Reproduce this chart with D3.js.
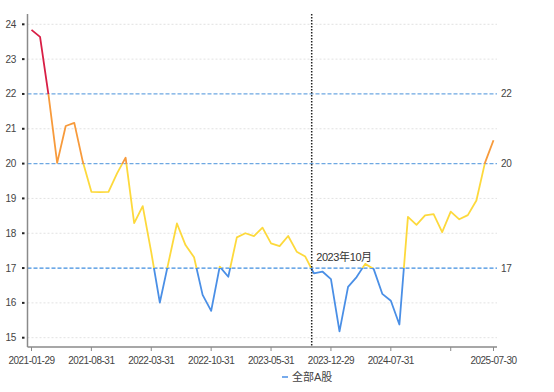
<!DOCTYPE html>
<html>
<head>
<meta charset="utf-8">
<script src="https://cdn.jsdelivr.net/npm/d3@7/dist/d3.min.js"></script>
<style>
  body { margin: 0; background: #fff; }
  svg { display: block; font-family: "Liberation Sans", Arial, "Noto Sans CJK SC", sans-serif; }
</style>
</head>
<body>
<svg id="chart" width="554" height="392"></svg>
<script>
// Dates (fin de mois) de la série
const dates = [
  "2021-01-29","2021-02-26","2021-03-31","2021-04-30","2021-05-31","2021-06-30","2021-07-30","2021-08-31","2021-09-30","2021-10-29","2021-11-30","2021-12-31",
  "2022-01-28","2022-02-28","2022-03-31","2022-04-29","2022-05-31","2022-06-30","2022-07-29","2022-08-31","2022-09-30","2022-10-31","2022-11-30","2022-12-30",
  "2023-01-31","2023-02-28","2023-03-31","2023-04-28","2023-05-31","2023-06-30","2023-07-31","2023-08-31","2023-09-28","2023-10-31","2023-11-30","2023-12-29",
  "2024-01-31","2024-02-29","2024-03-29","2024-04-30","2024-05-31","2024-06-28","2024-07-31","2024-08-30","2024-09-30","2024-10-31","2024-11-29","2024-12-31",
  "2025-01-27","2025-02-28","2025-03-31","2025-04-30","2025-05-30","2025-06-30","2025-07-30"
];

// Valeurs
const values = [
  23.84, 23.64, 21.95, 20.02, 21.08, 21.17, 20.05, 19.19, 19.18, 19.19, 19.72, 20.17,
  18.29, 18.78, 17.45, 16.01, 17.15, 18.28, 17.66, 17.31, 16.23, 15.77, 17.04, 16.75,
  17.88, 18.00, 17.92, 18.16, 17.71, 17.63, 17.92, 17.47, 17.33, 16.85, 16.90, 16.68,
  15.18, 16.46, 16.74, 17.12, 16.97, 16.26, 16.06, 15.38, 18.47, 18.24, 18.51, 18.55,
  18.03, 18.62, 18.40, 18.52, 18.94, 20.02, 20.67
];

const seriesName = "全部A股";
const yTicks = [15, 16, 17, 18, 19, 20, 21, 22, 23, 24];
const refLines = [22, 20, 17];
const xTickIdx = [0, 7, 14, 21, 28, 35, 42, 49, 54];
const xLabelIdx = [0, 7, 14, 21, 28, 35, 42, 54];
const markerPos = 32.75;   // ligne verticale "2023年10月"
const markerLabel = "2023年10月";

// Paliers de couleur (visualMap)
const pieces = [
  {min: 22, max: 99, color: "#d81e45"},
  {min: 20, max: 22, color: "#f79a3b"},
  {min: 17, max: 20, color: "#fdd93c"},
  {min: 0,  max: 17, color: "#4a8fe6"}
];

const svg = d3.select("#chart");
const plot = {left: 27.5, right: 497, top: 14, bottom: 347};

const x = d3.scaleLinear().domain([0, dates.length - 1]).range([31.5, 493.5]);
const y = d3.scaleLinear().domain([14.733, 24.296]).range([plot.bottom, plot.top]);

// Grille pointillée (sauf sous les lignes de référence)
svg.append("g").selectAll("line")
  .data(yTicks.filter(d => refLines.indexOf(d) < 0))
  .enter().append("line")
  .attr("x1", plot.left).attr("x2", plot.right)
  .attr("y1", d => y(d)).attr("y2", d => y(d))
  .attr("stroke", "#e2e2e2")
  .attr("stroke-dasharray", "2,2");

// Lignes de référence bleues
svg.append("g").selectAll("line")
  .data(refLines)
  .enter().append("line")
  .attr("x1", plot.left).attr("x2", plot.right)
  .attr("y1", d => y(d)).attr("y2", d => y(d))
  .attr("stroke", d => d == 17 ? "#3f8ddf" : "#6ea8e2")
  .attr("stroke-width", 1.2)
  .attr("stroke-dasharray", "4,2");

svg.append("g").selectAll("text")
  .data(refLines)
  .enter().append("text")
  .attr("x", 501)
  .attr("y", d => y(d) + 3.5)
  .attr("font-size", "10px")
  .attr("letter-spacing", "-0.3px")
  .attr("fill", "#444")
  .text(d => d);

// Dégradé vertical à paliers
const grad = svg.append("defs").append("linearGradient")
  .attr("id", "pieceGrad")
  .attr("gradientUnits", "userSpaceOnUse")
  .attr("x1", 0).attr("x2", 0)
  .attr("y1", plot.top).attr("y2", plot.bottom);

const span = plot.bottom - plot.top;
pieces.forEach(p => {
  let top = Math.max(plot.top, y(Math.min(p.max, y.domain()[1])));
  let bot = Math.min(plot.bottom, y(Math.max(p.min, y.domain()[0])));
  grad.append("stop").attr("offset", (top - plot.top) / span).attr("stop-color", p.color);
  grad.append("stop").attr("offset", (bot - plot.top) / span).attr("stop-color", p.color);
});

// Ligne de la série
const line = d3.line()
  .x((d, i) => x(i))
  .y(d => y(d));

svg.append("path")
  .datum(values)
  .attr("d", line)
  .attr("fill", "none")
  .attr("stroke", "url(#pieceGrad)")
  .attr("stroke-width", 1.8)
  .attr("stroke-linejoin", "round");

// Ligne verticale pointillée
svg.append("line")
  .attr("x1", x(markerPos)).attr("x2", x(markerPos))
  .attr("y1", plot.top).attr("y2", plot.bottom)
  .attr("stroke", "#222")
  .attr("stroke-width", 1.5)
  .attr("stroke-dasharray", "1.5,1.5");

svg.append("text")
  .attr("x", x(markerPos) + 4.5)
  .attr("y", 260.5)
  .attr("font-size", "11px")
  .attr("letter-spacing", "-0.4px")
  .attr("fill", "#333")
  .text(markerLabel);

// Axe Y
svg.append("line")
  .attr("x1", plot.left).attr("x2", plot.left)
  .attr("y1", plot.top).attr("y2", plot.bottom)
  .attr("stroke", "#8a8a8a").attr("stroke-width", 1.5);

const yAxis = svg.append("g");
yAxis.selectAll("line")
  .data(yTicks)
  .enter().append("line")
  .attr("x1", 22).attr("x2", 24.5)
  .attr("y1", d => y(d)).attr("y2", d => y(d))
  .attr("stroke", "#222").attr("stroke-width", 2);
yAxis.selectAll("text")
  .data(yTicks)
  .enter().append("text")
  .attr("x", 16)
  .attr("y", d => y(d) + 3.5)
  .attr("text-anchor", "end")
  .attr("font-size", "10px")
  .attr("letter-spacing", "-0.3px")
  .attr("fill", "#444")
  .text(d => d);

// Axe X
svg.append("line")
  .attr("x1", plot.left).attr("x2", plot.right)
  .attr("y1", plot.bottom).attr("y2", plot.bottom)
  .attr("stroke", "#8a8a8a").attr("stroke-width", 1.5);

const xAxis = svg.append("g");
xAxis.selectAll("line")
  .data(xTickIdx)
  .enter().append("line")
  .attr("x1", d => x(d)).attr("x2", d => x(d))
  .attr("y1", plot.bottom).attr("y2", plot.bottom + 4)
  .attr("stroke", "#8a8a8a");
xAxis.selectAll("text")
  .data(xLabelIdx)
  .enter().append("text")
  .attr("x", d => x(d))
  .attr("y", 364)
  .attr("text-anchor", "middle")
  .attr("font-size", "10px")
  .attr("letter-spacing", "-0.5px")
  .attr("fill", "#444")
  .text(d => dates[d]);

// Légende
const legend = svg.append("g").attr("transform", "translate(282,377)");
legend.append("line")
  .attr("x1", 0).attr("x2", 6)
  .attr("stroke", "#4a8fe6").attr("stroke-width", 1.5);
legend.append("text")
  .attr("x", 10).attr("y", 4)
  .attr("font-size", "11px")
  .attr("fill", "#444")
  .text(seriesName);
</script>
</body>
</html>
